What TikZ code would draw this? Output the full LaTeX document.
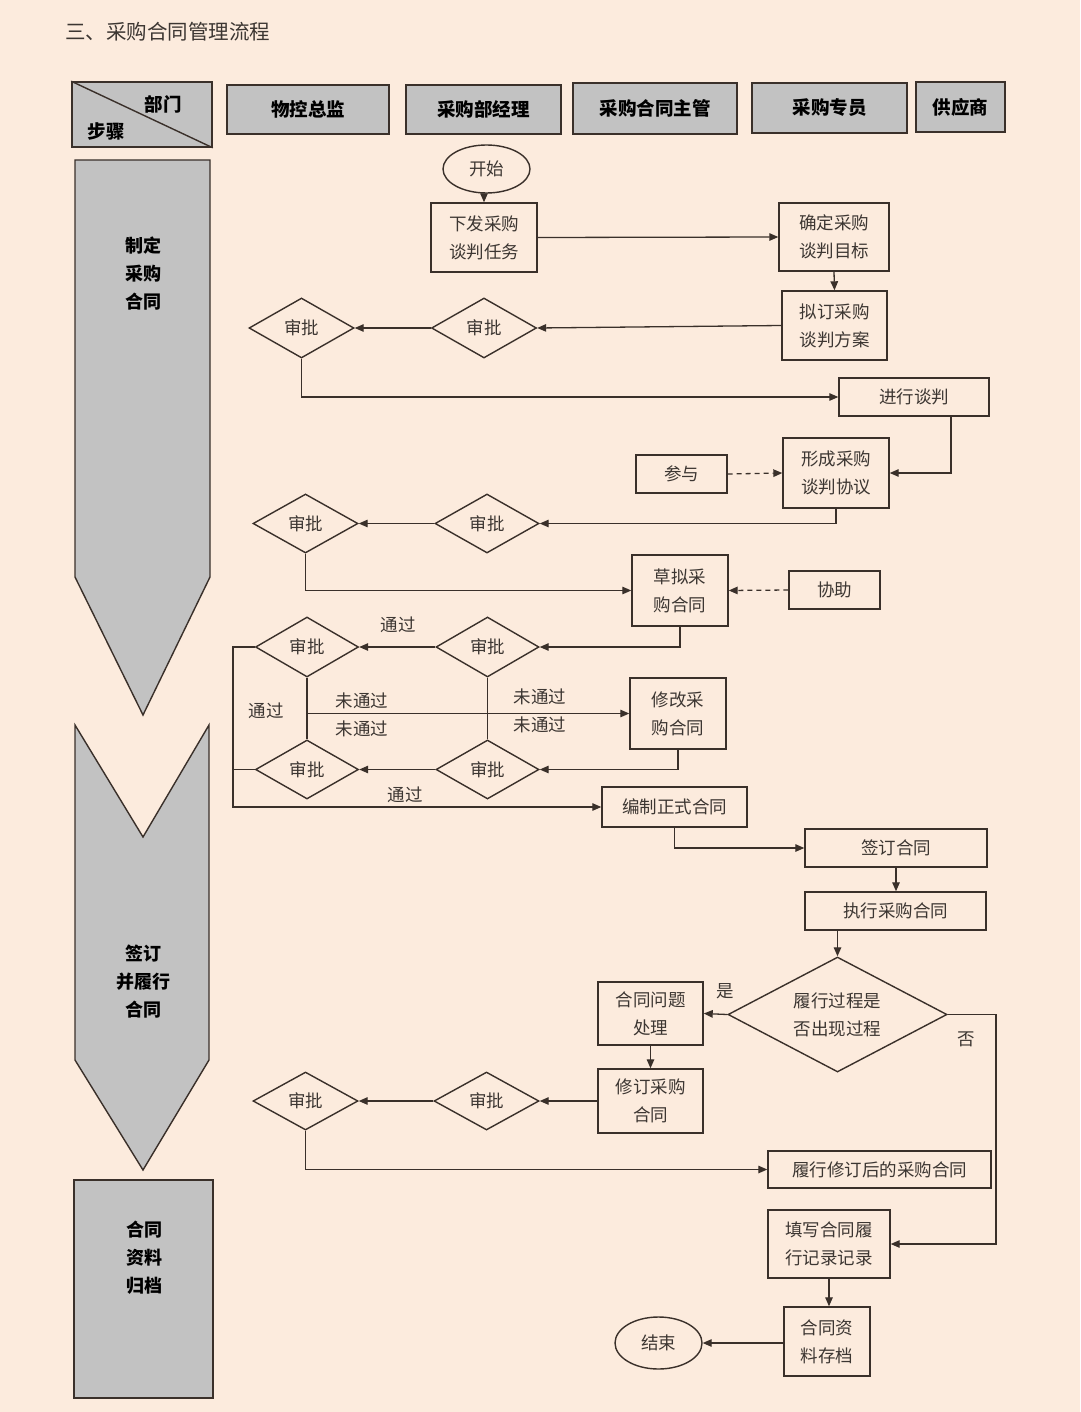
\documentclass[tikz,border=0pt]{standalone}
\usepackage{fontspec}
\setmainfont{Noto Sans CJK SC}
\usetikzlibrary{arrows.meta,shapes.geometric}
\definecolor{bg}{HTML}{FCEBDD}
\definecolor{ln}{HTML}{3A302A}
\definecolor{gr}{HTML}{C2C2C2}
\definecolor{tx}{HTML}{3C3632}
\tikzset{
  base/.style={draw=ln, line width=1.4pt, inner sep=0pt, align=center, text=tx,
    font=\fontsize{17.5}{28}\selectfont},
  box/.style={base, rectangle},
  dia/.style={base, diamond},
  ell/.style={base, ellipse},
  hdr/.style={draw=ln, line width=1.6pt, fill=gr, inner sep=0pt, text=black,
    font=\fontsize{18.5}{28}\selectfont\bfseries},
  lbl/.style={inner sep=0pt, text=tx, font=\fontsize{17.5}{28}\selectfont},
  steptxt/.style={inner sep=0pt, align=center, text=black,
    font=\fontsize{18}{28}\selectfont\bfseries},
  conn/.style={draw=ln, line width=1.3pt},
  arr/.style={conn, -{Triangle[length=9pt,width=7.5pt]}},
  darr/.style={arr, dashed, dash pattern=on 5pt off 4pt},
}
\begin{document}
\begin{tikzpicture}[x=1pt,y=-1pt]
\fill[bg] (0,0) rectangle (1080,1412);
\useasboundingbox (0,0) rectangle (1080,1412);

% title
\node[anchor=west, inner sep=0pt, text=tx, font=\fontsize{20.5}{24}\selectfont] (title) at (65,32) {三、采购合同管理流程};

% header
\node[hdr, minimum width=140pt, minimum height=65pt] (hstep) at (142,114.5) {};
\draw[ln, line width=1.4pt] (hstep.north west) -- (hstep.south east);
\node[inner sep=0pt, text=black, font=\fontsize{18.5}{28}\selectfont\bfseries] (hbm) at (163,104) {部门};
\node[inner sep=0pt, text=black, font=\fontsize{18.5}{28}\selectfont\bfseries] (hbz) at (106,131) {步骤};
\node[hdr, minimum width=162pt, minimum height=49pt] (h1) at (308,109.5) {物控总监};
\node[hdr, minimum width=155pt, minimum height=49pt] (h2) at (483.5,109.5) {采购部经理};
\node[hdr, minimum width=164pt, minimum height=51pt] (h3) at (655,108.5) {采购合同主管};
\node[hdr, minimum width=155pt, minimum height=50pt] (h4) at (829.5,108) {采购专员};
\node[hdr, minimum width=89pt, minimum height=50pt] (h5) at (960.5,107) {供应商};

% step shapes
\draw[ln, line width=1.4pt, fill=gr] (75,160) -- (210,160) -- (210,577) -- (143,715) -- (75,577) -- cycle;
\draw[ln, line width=1.4pt, fill=gr] (75,725) -- (143,837) -- (209,725) -- (209,1060) -- (143,1170) -- (75,1060) -- cycle;
\draw[ln, line width=1.4pt, fill=gr] (74,1180) rectangle (213,1398);
\node[steptxt] (s1) at (143,274) {制定\\采购\\合同};
\node[steptxt] (s2) at (143,982) {签订\\并履行\\合同};
\node[steptxt] (s3) at (144,1258) {合同\\资料\\归档};

% flow nodes
\node[ell, minimum width=87pt, minimum height=48pt] (start) at (486.5,169) {开始};
\node[box, minimum width=106pt, minimum height=69pt] (n1) at (484,237.5) {下发采购\\谈判任务};
\node[box, minimum width=110pt, minimum height=68pt] (n2) at (834,237) {确定采购\\谈判目标};
\node[box, minimum width=105pt, minimum height=69pt] (n3) at (834.5,325.5) {拟订采购\\谈判方案};
\node[dia, minimum width=105pt, minimum height=60pt] (d1a) at (484,328) {审批};
\node[dia, minimum width=105pt, minimum height=60pt] (d1b) at (301.5,328) {审批};
\node[box, minimum width=150pt, minimum height=38pt] (n4) at (914,397) {进行谈判};
\node[box, minimum width=106pt, minimum height=70pt] (n5) at (836,473) {形成采购\\谈判协议};
\node[box, minimum width=91pt, minimum height=38pt] (p1) at (681.5,474) {参与};
\node[dia, minimum width=104pt, minimum height=59pt] (d2a) at (487,523.5) {审批};
\node[dia, minimum width=105pt, minimum height=59pt] (d2b) at (305.5,523.5) {审批};
\node[box, minimum width=96pt, minimum height=71pt] (n6) at (680,590.5) {草拟采\\购合同};
\node[box, minimum width=91pt, minimum height=38pt] (hx) at (834.5,590) {协助};
\node[dia, minimum width=103pt, minimum height=60pt] (d3a) at (487.5,647) {审批};
\node[dia, minimum width=103pt, minimum height=60pt] (d3b) at (307,647) {审批};
\node[dia, minimum width=103pt, minimum height=59pt] (d4a) at (487.5,769.5) {审批};
\node[dia, minimum width=103pt, minimum height=59pt] (d4b) at (307,769.5) {审批};
\node[box, minimum width=96pt, minimum height=71pt] (n7) at (678,713.5) {修改采\\购合同};
\node[box, minimum width=145pt, minimum height=40pt] (n8) at (674.5,807) {编制正式合同};
\node[box, minimum width=182pt, minimum height=38pt] (n9) at (896,848) {签订合同};
\node[box, minimum width=181pt, minimum height=38pt] (n10) at (895.5,911) {执行采购合同};
\node[dia, shape aspect=1.9, minimum width=219pt, minimum height=115pt] (dq) at (837.5,1014.5) {履行过程是\\否出现过程};
\node[box, minimum width=105pt, minimum height=63pt] (n11) at (650.5,1013.5) {合同问题\\处理};
\node[box, minimum width=105pt, minimum height=64pt] (n12) at (650.5,1101) {修订采购\\合同};
\node[dia, minimum width=105pt, minimum height=58pt] (d5a) at (486.5,1101) {审批};
\node[dia, minimum width=105pt, minimum height=58pt] (d5b) at (305.5,1101) {审批};
\node[box, minimum width=223pt, minimum height=37pt] (n13) at (879.5,1169.5) {履行修订后的采购合同};
\node[box, minimum width=122pt, minimum height=68pt] (n14) at (829,1244) {填写合同履\\行记录记录};
\node[box, minimum width=86pt, minimum height=69pt] (n15) at (827,1341.5) {合同资\\料存档};
\node[ell, minimum width=87pt, minimum height=52pt] (fin) at (658.5,1343) {结束};

% labels
\node[lbl] (l1) at (398,625) {通过};
\node[lbl] (l2) at (266,711) {通过};
\node[lbl] (l3) at (362,701) {未通过};
\node[lbl] (l4) at (362,729) {未通过};
\node[lbl] (l5) at (540,697) {未通过};
\node[lbl] (l6) at (540,725) {未通过};
\node[lbl] (l7) at (405,795) {通过};
\node[lbl] (l8) at (725,991) {是};
\node[lbl] (l9) at (966,1039) {否};

% coordinates
\coordinate (lb) at (233,807);
\coordinate (rq) at (996,1014.5);

% connectors
\draw[arr] (n1.north |- start.south) -- (n1.north);
\draw[arr] (n1.east) -- (n2.west);
\draw[arr] (n2.south) -- (n3.north);
\draw[arr] (n3.west) -- (d1a.east);
\draw[arr] (d1a.west) -- (d1b.east);
\draw[arr] (d1b.south) |- (n4.west);
\draw[arr] ([xshift=37pt]n4.south) |- (n5.east);
\draw[darr] (p1.east) -- (n5.west);
\draw[arr] (n5.south) |- (d2a.east);
\draw[arr] (d2a.west) -- (d2b.east);
\draw[arr] (d2b.south) |- (n6.west);
\draw[darr] (hx.west) -- (n6.east);
\draw[arr] (n6.south) |- (d3a.east);
\draw[arr] (d3a.west) -- (d3b.east);
\draw[conn] (d3b.south) -- (d4b.north);
\draw[conn] (d3a.south) -- (d4a.north);
\draw[arr] (d3b.south |- n7.west) -- (n7.west);
\draw[arr] (n7.south) |- (d4a.east);
\draw[arr] (d4a.west) -- (d4b.east);
\draw[arr] (d3b.west) -| (lb) -- (n8.west);
\draw[conn] (d4b.west) -- (d4b.west -| lb);
\draw[arr] (n8.south) |- (n9.west);
\draw[arr] (n9.south) -- (n9.south |- n10.north);
\draw[arr] (dq.north |- n10.south) -- (dq.north);
\draw[arr] (dq.west) -- (n11.east);
\draw[arr] (n11.south) -- (n12.north);
\draw[arr] (dq.east) -- (rq) |- (n14.east);
\draw[arr] (n12.west) -- (d5a.east);
\draw[arr] (d5a.west) -- (d5b.east);
\draw[arr] (d5b.south) |- (n13.west);
\draw[arr] (n14.south) -- (n14.south |- n15.north);
\draw[arr] (fin.east -| n15.west) -- (fin.east);
\end{tikzpicture}
\end{document}
